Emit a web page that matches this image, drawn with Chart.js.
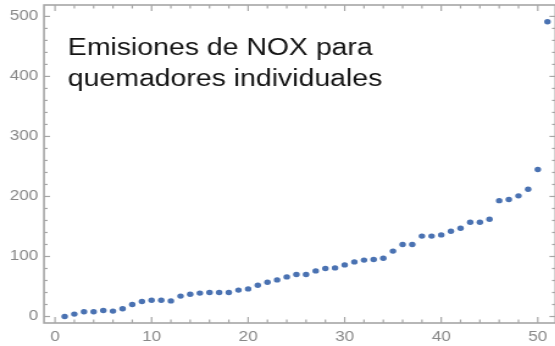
<!DOCTYPE html>
<html>
<head>
<meta charset="utf-8">
<script src="https://cdn.jsdelivr.net/npm/chart.js@4"></script>
<style>
  html, body { margin: 0; padding: 0; background: #ffffff; overflow: hidden; width: 555px; height: 346px; }
  #wrap { position: absolute; left: 0; top: 0; width: 458px; height: 346px; transform: scaleX(1.22); transform-origin: 0 0; }
  canvas { display: block; }
</style>
</head>
<body>
<div id="wrap"><canvas id="c" width="458" height="346"></canvas></div>
<script>
// ---- data ----
const burnerIndex = [1,2,3,4,5,6,7,8,9,10,11,12,13,14,15,16,17,18,19,20,21,22,23,24,25,26,27,28,29,30,31,32,33,34,35,36,37,38,39,40,41,42,43,44,45,46,47,48,49,50,51];
const noxEmissions = [0,4,8,8,10,9,13,20,25,27,27,26,34,37,39,40,40,40,44,46,52,57,61,66,70,70,76,80,81,86,91,94,95,97,109,120,120,134,134,136,142,147,157,157,162,193,195,201,212,245,491];
const xTickLabels = [0,10,20,30,40,50];
const yTickLabels = [0,100,200,300,400,500];
const annotationLines = ["Emisiones de NOX para", "quemadores individuales"];

const STRETCH = 1.22;
const points = burnerIndex.map((b, i) => ({ x: b, y: noxEmissions[i] }));

function drawFrame(chart) {
  const ctx = chart.ctx;
  const a = chart.chartArea;
  const xs = chart.scales.x;
  const ys = chart.scales.y;
  ctx.save();
  ctx.strokeStyle = '#a6a6a6';
  ctx.lineWidth = 1.6;
  ctx.strokeRect(a.left, a.top, a.right - a.left, a.bottom - a.top);
  ctx.lineWidth = 1.2;
  const seg = (x1, y1, x2, y2) => { ctx.beginPath(); ctx.moveTo(x1, y1); ctx.lineTo(x2, y2); ctx.stroke(); };
  for (let v = 0; v <= 50; v += 2) {
    const px = xs.getPixelForValue(v);
    const len = xTickLabels.includes(v) ? 6 : 3.5;
    seg(px, a.bottom, px, a.bottom - len);
    seg(px, a.top, px, a.top + len);
  }
  for (let v = 0; v <= 500; v += 20) {
    const py = ys.getPixelForValue(v);
    const len = (yTickLabels.includes(v) ? 6 : 3.5) / STRETCH;
    seg(a.left, py, a.left + len, py);
    seg(a.right, py, a.right - len, py);
  }
  ctx.restore();
}

const framePlugin = {
  id: 'framePlugin',
  beforeDatasetsDraw(chart) {
    drawFrame(chart);
  },
  afterDraw(chart) {
    const ctx = chart.ctx;
    ctx.save();
    ctx.fillStyle = '#141414';
    ctx.font = '23.3px "Liberation Sans", Arial, sans-serif';
    ctx.textAlign = 'left';
    ctx.textBaseline = 'alphabetic';
    ctx.fillText(annotationLines[0], 55.6, 54.5);
    ctx.fillText(annotationLines[1], 55.6, 86);
    ctx.restore();
  }
};

const labelFont = { family: '"Liberation Sans", Arial, sans-serif', size: 14 };

new Chart(document.getElementById('c'), {
  type: 'scatter',
  data: {
    datasets: [{
      data: points,
      backgroundColor: '#4a72b2',
      borderColor: '#4a72b2',
      borderWidth: 0,
      pointRadius: 2.7,
      pointHoverRadius: 2.7
    }]
  },
  options: {
    responsive: false,
    animation: false,
    layout: { padding: { left: 0, top: 5, right: 0, bottom: 0 } },
    plugins: { legend: { display: false }, tooltip: { enabled: false } },
    scales: {
      x: {
        type: 'linear',
        min: -1.14,
        max: 51.83,
        grid: { display: false, drawTicks: false },
        border: { display: false },
        afterBuildTicks: s => { s.ticks = xTickLabels.map(v => ({ value: v })); },
        afterFit: s => { s.height = 23; s.paddingLeft = 0; s.paddingRight = 0; s.paddingTop = 0; s.paddingBottom = 0; },
        ticks: { padding: 6, color: '#888888', font: labelFont, maxRotation: 0, autoSkip: false, align: 'center' }
      },
      y: {
        type: 'linear',
        min: -10.8,
        max: 519,
        grid: { display: false, drawTicks: false },
        border: { display: false },
        afterBuildTicks: s => { s.ticks = yTickLabels.map(v => ({ value: v })); },
        afterFit: s => { s.width = 36.07; s.paddingLeft = 0; s.paddingRight = 0; s.paddingTop = 0; s.paddingBottom = 0; },
        ticks: { padding: 4.7, color: '#888888', font: labelFont, autoSkip: false }
      }
    }
  },
  plugins: [framePlugin]
});
</script>
</body>
</html>
